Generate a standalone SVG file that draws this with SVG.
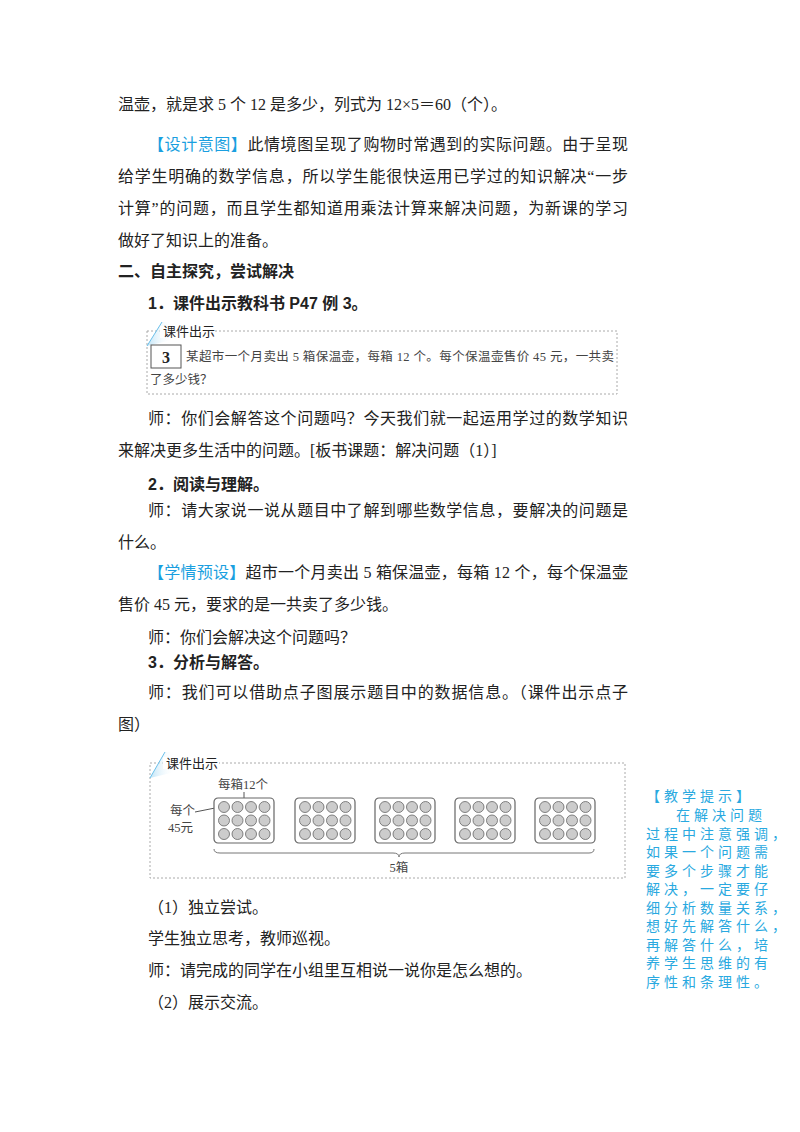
<svg xmlns="http://www.w3.org/2000/svg" width="800" height="1132" viewBox="0 0 800 1132">
<style>
.t{font-family:"Liberation Serif","Noto Sans CJK SC",serif;font-size:16px;fill:#222}
.b{font-weight:bold;font-family:"Liberation Sans","Noto Sans CJK SC",sans-serif}
.blue{fill:#1a9fe0}
.s{font-family:"Liberation Serif","Noto Sans CJK SC",serif;font-size:12.5px;fill:#444}
.lab{font-family:"Noto Sans CJK SC",sans-serif;font-size:13px;fill:#222}
.dash{fill:none;stroke:#aaa;stroke-width:1;stroke-dasharray:2,2}
.bx{fill:#fff;stroke:#666;stroke-width:1.2}
.dot{fill:#ccc;stroke:#666;stroke-width:0.8}
.note{font-family:"Noto Sans CJK SC",sans-serif;font-size:14px;fill:#29a9e0;letter-spacing:4px}
</style>
<defs>
<g id="tray">
<rect class="bx" x="0" y="0" width="60" height="45" rx="4"/>
<g id="row"><circle class="dot" cx="10" cy="9" r="5.5"/><circle class="dot" cx="23.5" cy="9" r="5.5"/><circle class="dot" cx="37" cy="9" r="5.5"/><circle class="dot" cx="50.5" cy="9" r="5.5"/></g>
<use href="#row" y="13.5"/><use href="#row" y="27"/>
</g>
<linearGradient id="lg" x1="0" y1="0" x2="1" y2="0"><stop offset="0" stop-color="#bfe4f7"/><stop offset="1" stop-color="#fff" stop-opacity="0"/></linearGradient>
</defs>
<g id="text">
<text class="t" x="118" y="110">温壶，就是求 5 个 12 是多少，列式为 12×5＝60（个）。</text>
<text class="t" x="148" y="150" textLength="480"><tspan class="blue">【设计意图】</tspan>此情境图呈现了购物时常遇到的实际问题。由于呈现</text>
<text class="t" x="118" y="182" textLength="510">给学生明确的数学信息，所以学生能很快运用已学过的知识解决“一步</text>
<text class="t" x="118" y="214" textLength="510">计算”的问题，而且学生都知道用乘法计算来解决问题，为新课的学习</text>
<text class="t" x="118" y="246">做好了知识上的准备。</text>
<text class="t b" x="118" y="277">二、自主探究，尝试解决</text>
<text class="t b" x="148" y="309">1．课件出示教科书 P47 例 3。</text>
<text class="t" x="148" y="424" textLength="480">师：你们会解答这个问题吗？今天我们就一起运用学过的数学知识</text>
<text class="t" x="118" y="456">来解决更多生活中的问题。[板书课题：解决问题（1）]</text>
<text class="t b" x="148" y="490">2．阅读与理解。</text>
<text class="t" x="148" y="516" textLength="480">师：请大家说一说从题目中了解到哪些数学信息，要解决的问题是</text>
<text class="t" x="118" y="548">什么。</text>
<text class="t" x="148" y="578" textLength="480"><tspan class="blue">【学情预设】</tspan>超市一个月卖出 5 箱保温壶，每箱 12 个，每个保温壶</text>
<text class="t" x="118" y="610">售价 45 元，要求的是一共卖了多少钱。</text>
<text class="t" x="148" y="643">师：你们会解决这个问题吗？</text>
<text class="t b" x="148" y="668">3．分析与解答。</text>
<text class="t" x="148" y="698" textLength="480">师：我们可以借助点子图展示题目中的数据信息。（课件出示点子</text>
<text class="t" x="118" y="730">图）</text>
<text class="t" x="148" y="913">（1）独立尝试。</text>
<text class="t" x="148" y="944">学生独立思考，教师巡视。</text>
<text class="t" x="148" y="976">师：请完成的同学在小组里互相说一说你是怎么想的。</text>
<text class="t" x="148" y="1008">（2）展示交流。</text>
</g>
<g id="box1">
<rect class="dash" x="147" y="331" width="470" height="63"/>
<path d="M147,346 L162,322 L172,322 L172,340 Z" fill="url(#lg)"/>
<line x1="147" y1="346" x2="162" y2="322" stroke="#6cc0ea" stroke-width="1"/>
<rect x="160" y="326" width="54" height="12" fill="#fff"/>
<text class="lab" x="163" y="336">课件出示</text>
<rect x="151" y="345" width="30" height="23" fill="#fff" stroke="#555"/>
<text x="166" y="363" text-anchor="middle" font-family="Liberation Serif,serif" font-size="16" font-weight="bold" fill="#222">3</text>
<text class="s" x="186" y="361" textLength="428">某超市一个月卖出 5 箱保温壶，每箱 12 个。每个保温壶售价 45 元，一共卖</text>
<text class="s" x="150" y="384">了多少钱？</text>
</g>
<g id="box2">
<rect class="dash" x="150" y="763" width="475" height="115"/>
<path d="M150,778 L165,752 L175,752 L175,772 Z" fill="url(#lg)"/>
<line x1="150" y1="778" x2="165" y2="752" stroke="#6cc0ea" stroke-width="1"/>
<rect x="163" y="757" width="56" height="12" fill="#fff"/>
<text class="lab" x="166" y="768">课件出示</text>
<text class="s" x="218" y="789">每箱12个</text>
<line x1="244" y1="792" x2="244" y2="798" stroke="#555"/>
<text class="s" x="170" y="815">每个</text>
<text class="s" x="168" y="832">45元</text>
<line x1="195" y1="812" x2="220" y2="807" stroke="#555"/>
<use href="#tray" x="214" y="798"/>
<use href="#tray" x="295" y="798"/>
<use href="#tray" x="375" y="798"/>
<use href="#tray" x="455" y="798"/>
<use href="#tray" x="535" y="798"/>
<path d="M214,849 Q214,853 220,853 L393,853 Q399,853 399,857 Q399,853 405,853 L589,853 Q594,853 594,849" fill="none" stroke="#777" stroke-width="1"/>
<text class="s" x="399" y="872" text-anchor="middle">5箱</text>
</g>
<g id="note">
<text class="note" x="646" y="801">【教学提示】</text>
<text class="note" x="676" y="820">在解决问题</text>
<text class="note" x="646" y="839">过程中注意强调，</text>
<text class="note" x="646" y="857">如果一个问题需</text>
<text class="note" x="646" y="876">要多个步骤才能</text>
<text class="note" x="646" y="894">解决，一定要仔</text>
<text class="note" x="646" y="913">细分析数量关系，</text>
<text class="note" x="646" y="931">想好先解答什么，</text>
<text class="note" x="646" y="950">再解答什么，培</text>
<text class="note" x="646" y="968">养学生思维的有</text>
<text class="note" x="646" y="987">序性和条理性。</text>
</g>
</svg>
